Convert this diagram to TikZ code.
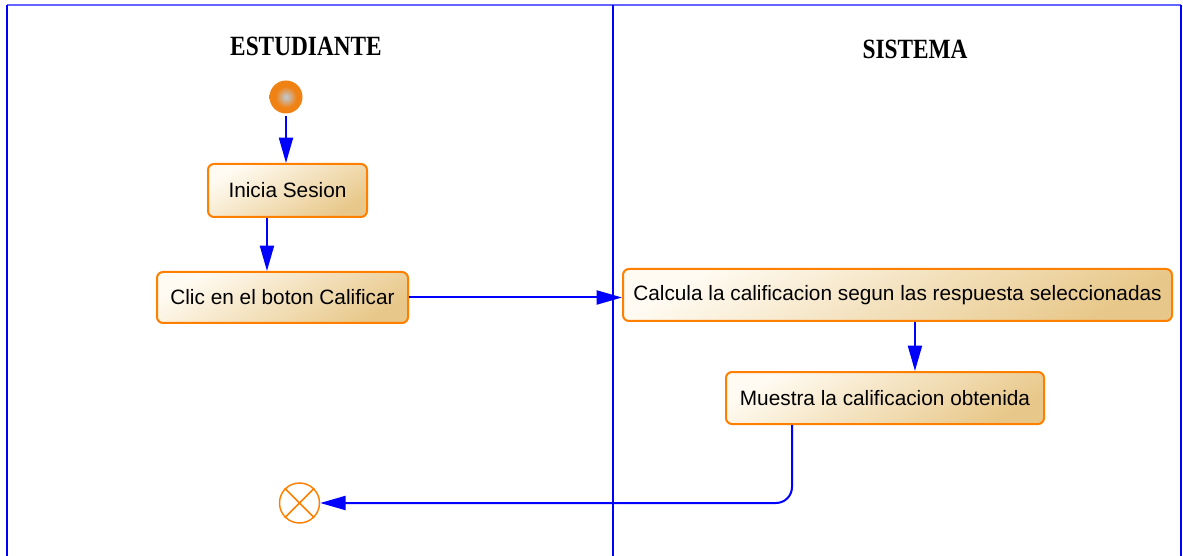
\documentclass[tikz,border=0pt]{standalone}
\usepackage{fontspec}
\setmainfont{Liberation Serif}
\newfontfamily\boxfont{Liberation Sans}
\usetikzlibrary{arrows.meta,calc}
\definecolor{laneblue}{RGB}{0,0,255}
\definecolor{toplane}{RGB}{100,100,255}
\definecolor{actborder}{RGB}{255,128,0}
\definecolor{actlight}{RGB}{255,251,242}
\definecolor{actdark}{RGB}{232,200,138}
\definecolor{startorange}{RGB}{240,130,20}
\definecolor{startgray}{RGB}{195,195,195}
\pgfdeclareradialshading{startball}{\pgfpoint{0bp}{0bp}}{color(0bp)=(startgray); color(2bp)=(startgray); color(16bp)=(startorange); color(25bp)=(startorange); color(50bp)=(startorange)}
\begin{document}
\begin{tikzpicture}[x=0.75pt,y=-0.75pt,
  activity/.style={draw=actborder, line width=1.5pt, rounded corners=4.5pt,
    top color=actlight, bottom color=actdark, shading angle=30,
    font=\boxfont\fontsize{15.6}{18}\selectfont, inner sep=0pt, align=center},
  flow/.style={draw=laneblue, line width=1.5pt, -{Triangle[length=19pt,width=10.5pt]}},
  lane/.style={draw=laneblue, line width=1.1pt},
  lanetitle/.style={font=\bfseries\fontsize{19}{21}\selectfont, inner sep=0pt},
  startnode/.style={circle, minimum size=24.75pt, inner sep=0pt, shading=startball},
  endnode/.style={circle, draw=actborder, line width=1.1pt, minimum size=30pt, inner sep=0pt, fill=white}]
\useasboundingbox (0,0) rectangle (1183,556);
% swimlanes
\draw[draw=toplane, line width=1.1pt] (7,5) -- (1181,5);
\draw[lane] (7,5) -- (7,556);
\draw[lane] (613,5) -- (613,556);
\draw[lane] (1181,5) -- (1181,556);
\node[lanetitle] (t1) at (306,46) {\scalebox{0.92}[1.1]{ESTUDIANTE}};
\node[lanetitle] (t2) at (915,49) {\scalebox{0.92}[1.1]{SISTEMA}};
% nodes
\node[startnode, shade] (start) at (286,97) {};
\node[activity, minimum width=119.25pt, minimum height=39.75pt] (ini) at (287.5,190.5) {Inicia Sesion};
\node[activity, minimum width=188.25pt, minimum height=38.25pt] (clic) at (282.5,297.5) {Clic en el boton Calificar};
\node[activity, minimum width=411.75pt, minimum height=39pt] (calc) at (897.5,295) {Calcula la calificacion segun las respuesta seleccionadas};
\node[activity, minimum width=238.5pt, minimum height=39pt] (mue) at (885,398) {Muestra la calificacion obtenida};
\node[endnode] (end) at (299.5,503) {};
\draw[actborder, line width=1.1pt] (end.north east) -- (end.south west);
\draw[actborder, line width=1.1pt] (end.north west) -- (end.south east);
% flows
\draw[flow] ([yshift=-1.5pt]start.south) -- (start.south |- ini.north);
\draw[flow] ([xshift=-15.4pt]ini.south) -- ([xshift=-15.4pt]ini.south |- clic.north);
\draw[flow] (clic.east) -- (clic.east -| calc.west);
\draw[flow] ([xshift=13.1pt]calc.south) -- ([xshift=13.1pt]calc.south |- mue.north);
\draw[flow, rounded corners=12pt] ([xshift=-69.75pt]mue.south) |- (end.east);
\end{tikzpicture}
\end{document}
